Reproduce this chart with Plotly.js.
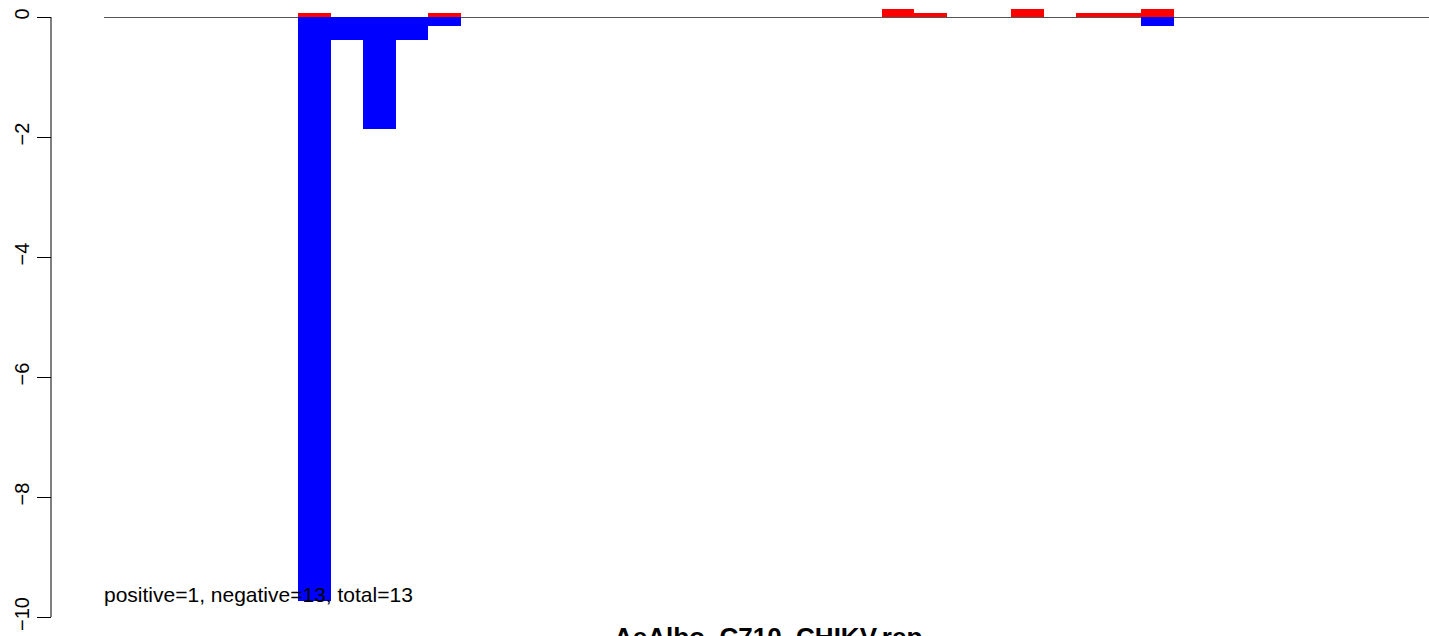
<!DOCTYPE html>
<html>
<head>
<meta charset="utf-8">
<script src="https://cdn.plot.ly/plotly-3.0.1.min.js"></script>
<style>
html,body{margin:0;padding:0;background:#fff;}
#chart{width:1429px;height:636px;}
</style>
</head>
<body>
<div id="chart"></div>
<script>
// Bar positions (index along the sequence) and values
const positions = [7, 8, 9, 10, 11, 25, 26, 29, 31, 32, 33];
const positiveValues = [0.067, null, null, null, 0.067, 0.133, 0.067, 0.133, 0.067, 0.067, 0.133];
const negativeValues = [-9.73, -0.383, -1.86, -0.383, -0.145, null, null, null, null, null, -0.145];
const yTickValues = [0, -2, -4, -6, -8, -10];
const yTickLabels = ["0", "\u22122", "\u22124", "\u22126", "\u22128", "\u221210"];
const summaryText = "positive=1, negative=13, total=13";
const chartTitle = "AeAlbo_C710_CHIKV.rep";

const W = 1429, H = 636;
const plotLeft = 104;
const pxPerBar = 32.41;
const pxPerUnit = 60;
const zeroPx = 17;
const axisX = 51;

const font = "'Liberation Sans', Arial, sans-serif";

const traces = [
  {
    type: 'bar', x: positions, y: positiveValues, width: 1,
    marker: {color: '#FF0000', line: {width: 0}}, hoverinfo: 'x+y'
  },
  {
    type: 'bar', x: positions, y: negativeValues, width: 1,
    marker: {color: '#0000FF', line: {width: 0}}, hoverinfo: 'x+y'
  }
];

const xStart = 0.5;
const xEnd = xStart + (W - plotLeft) / pxPerBar;
const yTop = zeroPx / pxPerUnit;
const yBottom = yTop - H / pxPerUnit;

const layout = {
  width: W, height: H,
  margin: {l: 0, r: 0, t: 0, b: 0, pad: 0},
  paper_bgcolor: '#fff', plot_bgcolor: '#fff',
  showlegend: false,
  barmode: 'overlay',
  bargap: 0,
  font: {family: font, size: 20, color: '#000'},
  xaxis: {
    domain: [plotLeft / W, 1],
    range: [xStart, xEnd],
    showticklabels: false, ticks: '', showgrid: false, zeroline: false, showline: false
  },
  yaxis: {
    range: [yBottom, yTop],
    anchor: 'free', position: axisX / W,
    tickvals: yTickValues, ticktext: yTickLabels,
    ticks: 'outside', ticklen: 14, tickwidth: 1, tickcolor: '#000',
    tickangle: -90,
    tickfont: {family: font, size: 20, color: '#000'},
    showgrid: false, showline: false,
    zeroline: true, zerolinecolor: '#555555', zerolinewidth: 1
  },
  shapes: [
    {type: 'line', xref: 'paper', yref: 'y', x0: axisX / W, x1: axisX / W,
     y0: yTickValues[0], y1: yTickValues[yTickValues.length - 1],
     line: {color: '#000', width: 1}}
  ],
  annotations: [
    {text: summaryText, xref: 'paper', yref: 'y', x: (plotLeft - 2) / W, y: -9.63,
     xanchor: 'left', yanchor: 'middle', showarrow: false,
     font: {family: font, size: 21, color: '#000'}},
    {text: '<b>' + chartTitle + '</b>', xref: 'paper', yref: 'paper', x: 768 / W, y: -0.002,
     xanchor: 'center', yanchor: 'middle', showarrow: false,
     font: {family: font, size: 26, color: '#000'}}
  ]
};

Plotly.newPlot('chart', traces, layout, {staticPlot: true, displayModeBar: false});
</script>
</body>
</html>
